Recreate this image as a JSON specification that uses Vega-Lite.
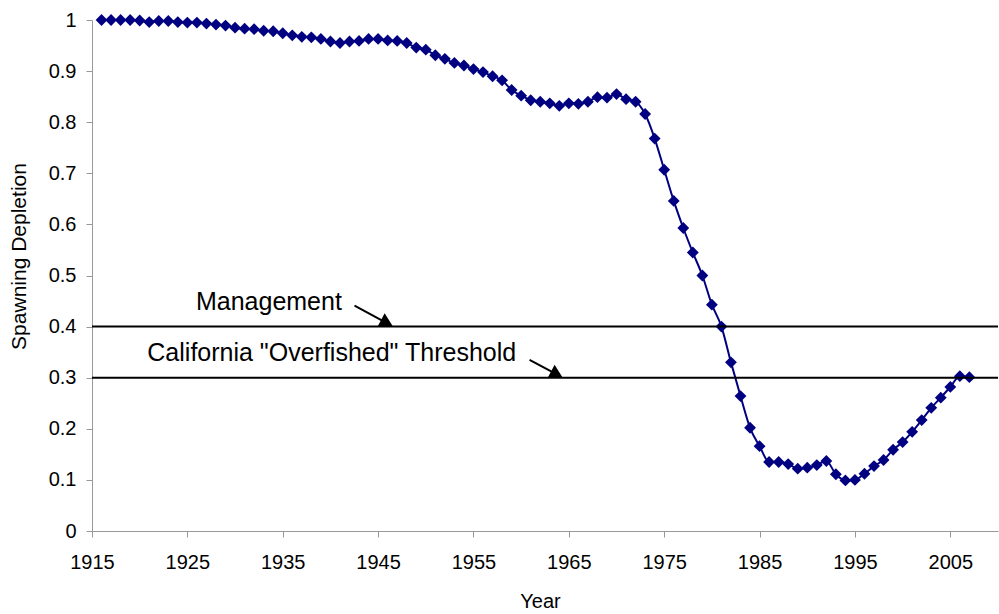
{
  "$schema": "https://vega.github.io/schema/vega-lite/v6.json",
  "width": 906,
  "height": 511,
  "autosize": {"type": "none"},
  "padding": {"left": 92, "top": 20, "right": 1, "bottom": 83},
  "background": "white",
  "config": {"view": {"stroke": null}, "font": "Liberation Sans"},
  "datasets": {
    "series": [
      {"year": 1916, "value": 1.0}, {"year": 1917, "value": 1.0}, {"year": 1918, "value": 1.0}, {"year": 1919, "value": 1.0},
      {"year": 1920, "value": 0.999}, {"year": 1921, "value": 0.996}, {"year": 1922, "value": 0.998}, {"year": 1923, "value": 0.998},
      {"year": 1924, "value": 0.996}, {"year": 1925, "value": 0.995}, {"year": 1926, "value": 0.995}, {"year": 1927, "value": 0.993},
      {"year": 1928, "value": 0.991}, {"year": 1929, "value": 0.989}, {"year": 1930, "value": 0.985}, {"year": 1931, "value": 0.983},
      {"year": 1932, "value": 0.982}, {"year": 1933, "value": 0.979}, {"year": 1934, "value": 0.978}, {"year": 1935, "value": 0.974},
      {"year": 1936, "value": 0.970}, {"year": 1937, "value": 0.967}, {"year": 1938, "value": 0.966}, {"year": 1939, "value": 0.963},
      {"year": 1940, "value": 0.958}, {"year": 1941, "value": 0.955}, {"year": 1942, "value": 0.958}, {"year": 1943, "value": 0.959},
      {"year": 1944, "value": 0.963}, {"year": 1945, "value": 0.963}, {"year": 1946, "value": 0.960}, {"year": 1947, "value": 0.959},
      {"year": 1948, "value": 0.955}, {"year": 1949, "value": 0.946}, {"year": 1950, "value": 0.942}, {"year": 1951, "value": 0.931},
      {"year": 1952, "value": 0.924}, {"year": 1953, "value": 0.916}, {"year": 1954, "value": 0.911}, {"year": 1955, "value": 0.904},
      {"year": 1956, "value": 0.898}, {"year": 1957, "value": 0.890}, {"year": 1958, "value": 0.882}, {"year": 1959, "value": 0.863},
      {"year": 1960, "value": 0.852}, {"year": 1961, "value": 0.843}, {"year": 1962, "value": 0.840}, {"year": 1963, "value": 0.837},
      {"year": 1964, "value": 0.832}, {"year": 1965, "value": 0.837}, {"year": 1966, "value": 0.836}, {"year": 1967, "value": 0.840},
      {"year": 1968, "value": 0.849}, {"year": 1969, "value": 0.848}, {"year": 1970, "value": 0.855}, {"year": 1971, "value": 0.845},
      {"year": 1972, "value": 0.840}, {"year": 1973, "value": 0.816}, {"year": 1974, "value": 0.768}, {"year": 1975, "value": 0.707},
      {"year": 1976, "value": 0.646}, {"year": 1977, "value": 0.593}, {"year": 1978, "value": 0.545}, {"year": 1979, "value": 0.500},
      {"year": 1980, "value": 0.443}, {"year": 1981, "value": 0.400}, {"year": 1982, "value": 0.330}, {"year": 1983, "value": 0.264},
      {"year": 1984, "value": 0.202}, {"year": 1985, "value": 0.166}, {"year": 1986, "value": 0.135}, {"year": 1987, "value": 0.135},
      {"year": 1988, "value": 0.131}, {"year": 1989, "value": 0.122}, {"year": 1990, "value": 0.124}, {"year": 1991, "value": 0.129},
      {"year": 1992, "value": 0.137}, {"year": 1993, "value": 0.111}, {"year": 1994, "value": 0.099}, {"year": 1995, "value": 0.100},
      {"year": 1996, "value": 0.112}, {"year": 1997, "value": 0.127}, {"year": 1998, "value": 0.139}, {"year": 1999, "value": 0.159},
      {"year": 2000, "value": 0.174}, {"year": 2001, "value": 0.194}, {"year": 2002, "value": 0.217}, {"year": 2003, "value": 0.241},
      {"year": 2004, "value": 0.261}, {"year": 2005, "value": 0.282}, {"year": 2006, "value": 0.303}, {"year": 2007, "value": 0.301}
    ],
    "thresholds": [{"level": 0.4}, {"level": 0.3}],
    "labels": [
      {"year": 1925.9, "value": 0.433, "text": "Management"},
      {"year": 1920.8, "value": 0.333, "text": "California \"Overfished\" Threshold"}
    ],
    "arrows": [
      {"year": 1942.53, "value": 0.441, "year2": 1945.92, "value2": 0.407},
      {"year": 1960.88, "value": 0.335, "year2": 1963.74, "value2": 0.3065}
    ]
  },
  "layer": [
    {
      "data": {"name": "series"},
      "mark": {"type": "line", "color": "#000080", "strokeWidth": 2, "interpolate": "monotone"},
      "encoding": {
        "x": {
          "field": "year", "type": "quantitative", "title": "Year",
          "scale": {"domain": [1915, 2010], "nice": false, "zero": false},
          "axis": {
            "values": [1915, 1925, 1935, 1945, 1955, 1965, 1975, 1985, 1995, 2005],
            "format": "d", "grid": false, "tickSize": 6, "labelPadding": 15,
            "labelFontSize": 20, "labelColor": "black", "labelFlush": false, "labelOverlap": false,
            "domainColor": "#999999", "tickColor": "#999999",
            "titleFontSize": 20, "titleFontWeight": "normal", "titleColor": "black",
            "titleX": 448, "titleY": 76, "titleBaseline": "alphabetic", "titleAlign": "center"
          }
        },
        "y": {
          "field": "value", "type": "quantitative", "title": "Spawning Depletion",
          "scale": {"domain": [0, 1], "nice": false},
          "axis": {
            "values": [0, 0.1, 0.2, 0.3, 0.4, 0.5, 0.6, 0.7, 0.8, 0.9, 1],
            "format": "~g", "grid": false, "tickSize": 6, "labelPadding": 10,
            "labelFontSize": 20, "labelColor": "black",
            "domainColor": "#999999", "tickColor": "#999999",
            "titleFontSize": 21, "titleFontWeight": "normal", "titleColor": "black",
            "titleAngle": -90, "titleX": -67, "titleY": 236, "titleBaseline": "alphabetic", "titleAlign": "center"
          }
        }
      }
    },
    {
      "data": {"name": "series"},
      "mark": {"type": "point", "shape": "diamond", "filled": true, "color": "#000080", "size": 140, "opacity": 1},
      "encoding": {
        "x": {"field": "year", "type": "quantitative", "title": "Year"},
        "y": {"field": "value", "type": "quantitative", "title": "Spawning Depletion"}
      }
    },
    {
      "data": {"name": "thresholds"},
      "mark": {"type": "rule", "color": "black", "strokeWidth": 2},
      "encoding": {
        "y": {"field": "level", "type": "quantitative", "title": "Spawning Depletion"}
      }
    },
    {
      "data": {"name": "arrows"},
      "mark": {"type": "rule", "color": "black", "strokeWidth": 2},
      "encoding": {
        "x": {"field": "year", "type": "quantitative", "title": "Year"},
        "y": {"field": "value", "type": "quantitative", "title": "Spawning Depletion"},
        "x2": {"field": "year2"},
        "y2": {"field": "value2"}
      }
    },
    {
      "data": {"name": "arrows"},
      "mark": {"type": "point", "shape": "triangle-up", "filled": true, "color": "black", "size": 225, "angle": 118, "opacity": 1},
      "encoding": {
        "x": {"field": "year2", "type": "quantitative", "title": "Year"},
        "y": {"field": "value2", "type": "quantitative", "title": "Spawning Depletion"}
      }
    },
    {
      "data": {"name": "labels"},
      "mark": {"type": "text", "align": "left", "baseline": "alphabetic", "fontSize": 25, "color": "black"},
      "encoding": {
        "x": {"field": "year", "type": "quantitative", "title": "Year"},
        "y": {"field": "value", "type": "quantitative", "title": "Spawning Depletion"},
        "text": {"field": "text"}
      }
    }
  ]
}
